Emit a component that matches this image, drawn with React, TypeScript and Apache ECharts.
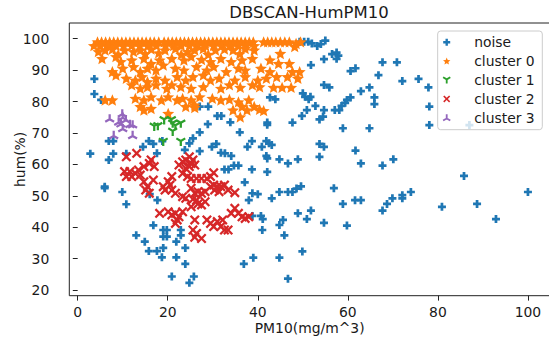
import React, { useEffect, useRef } from "react";
import * as echarts from "echarts";

const xTicks = [0, 20, 40, 60, 80, 100];
const yTicks = [20, 30, 40, 50, 60, 70, 80, 90, 100];
const seriesNames = ["noise", "cluster 0", "cluster 1", "cluster 2", "cluster 3"];
const seriesColors = ["#1f77b4", "#ff7f0e", "#2ca02c", "#d62728", "#9467bd"];

const noisePoints: number[][] = [
  [3.7, 87.2], [3.7, 82.4], [5.2, 80.5], [2.8, 63.4], [6.9, 67.4], [7.9, 67.4], [6.9, 61.4], [7.9, 63.4],
  [6.0, 52.9], [6.0, 52.4], [9.9, 51.2], [10.8, 47.3], [10.8, 63.4], [13.0, 37.4], [14.9, 35.4], [15.8, 32.4],
  [17.6, 32.4], [18.7, 30.4], [19.0, 33.4], [19.0, 39.1], [19.8, 39.1], [19.0, 37.0], [19.8, 37.0], [16.8, 40.6],
  [17.7, 48.6], [16.0, 50.5], [21.9, 35.4], [22.9, 39.1], [22.9, 37.4], [21.9, 30.4], [20.9, 24.3], [23.9, 28.3],
  [23.9, 33.4], [24.8, 22.3], [25.8, 24.3], [14.5, 65.6], [15.8, 67.4], [16.8, 66.5], [17.6, 63.5], [18.8, 67.4],
  [23.8, 64.6], [24.8, 66.7], [25.6, 68.3], [27.1, 70.2], [27.1, 64.2], [28.9, 72.8], [27.1, 78.4], [29.0, 78.4],
  [29.8, 65.6], [30.8, 66.5], [31.0, 75.4], [31.9, 75.4], [31.8, 63.7], [32.7, 63.5], [33.9, 73.4], [34.1, 62.7],
  [32.6, 58.4], [33.5, 58.4], [34.7, 59.6], [35.7, 59.6], [36.0, 70.2], [37.1, 54.3], [38.0, 48.6], [38.8, 50.8],
  [40.0, 50.5], [37.7, 65.6], [38.7, 67.4], [38.7, 58.4], [38.8, 43.6], [40.7, 43.6], [41.1, 42.6], [41.0, 39.1],
  [40.9, 65.6], [41.9, 67.4], [41.9, 62.7], [42.1, 61.9], [42.1, 57.6], [42.1, 73.3], [42.1, 72.6], [42.5, 66.7],
  [43.1, 66.2], [42.7, 81.3], [43.9, 80.7], [43.1, 49.2], [39.0, 30.3], [36.9, 28.3], [44.8, 30.3], [46.7, 23.6],
  [44.8, 61.6], [44.8, 40.7], [45.6, 42.3], [45.9, 37.4], [44.8, 51.2], [46.7, 51.2], [47.7, 51.2], [48.6, 52.3],
  [49.6, 53.0], [46.7, 60.3], [47.7, 73.3], [48.9, 61.6], [48.9, 44.4], [49.9, 32.3], [50.9, 42.6], [51.8, 45.3],
  [49.8, 75.4], [50.9, 77.3], [50.0, 82.6], [50.5, 81.5], [51.3, 80.7], [51.7, 81.5], [51.8, 91.6], [52.8, 78.6],
  [53.7, 74.3], [54.5, 75.2], [53.7, 66.5], [54.7, 65.6], [53.7, 62.4], [54.7, 77.3], [54.7, 85.3], [55.9, 84.5],
  [54.7, 93.5], [54.7, 41.4], [56.9, 52.4], [57.1, 77.3], [58.1, 77.3], [56.5, 95.1], [57.5, 95.6], [57.9, 94.6],
  [57.5, 93.6], [58.9, 71.5], [58.9, 47.4], [59.8, 40.5], [58.6, 78.6], [59.4, 79.6], [59.8, 80.5], [60.6, 81.3],
  [60.6, 89.7], [61.7, 90.6], [61.7, 64.4], [62.9, 60.3], [61.6, 48.6], [62.9, 48.6], [62.9, 83.3], [64.8, 84.5],
  [64.8, 71.5], [65.9, 81.3], [65.9, 79.2], [66.8, 88.4], [67.7, 92.5], [67.7, 59.6], [67.7, 45.3], [68.7, 47.4],
  [70.1, 61.6], [69.9, 49.2], [72.1, 50.2], [72.1, 49.2], [74.0, 51.2], [70.9, 92.5], [72.1, 86.5], [75.7, 87.2],
  [77.9, 84.5], [78.1, 78.4], [78.1, 72.5], [87.0, 72.5], [80.9, 46.5], [85.8, 56.3], [88.7, 47.4], [92.9, 42.6],
  [100.0, 51.2], [49.3, 99.0], [50.3, 99.0], [51.2, 99.0], [52.0, 98.5], [53.2, 97.7], [54.0, 98.3], [55.0, 99.4],
];

const cluster0Points: number[][] = [
  [4.4, 99], [5.3, 99], [6.2, 99], [7.1, 99], [8.0, 99], [8.9, 99], [9.8, 99], [10.7, 99], [11.6, 99], [12.5, 99],
  [13.4, 99], [14.3, 99], [15.2, 99], [16.1, 99], [17.0, 99], [18.0, 99], [19.2, 99], [20.1, 99], [21.0, 99],
  [21.9, 99], [22.8, 99], [23.7, 99], [24.6, 99], [25.5, 99], [26.4, 99], [27.3, 99], [28.2, 99], [29.1, 99],
  [30.0, 99], [30.9, 99], [31.8, 99], [32.7, 99], [33.6, 99], [34.5, 99], [35.4, 99], [36.3, 99], [37.2, 99],
  [38.1, 99], [39.0, 99], [41.3, 99], [42.2, 99], [43.1, 99], [44.0, 99], [45.0, 99], [46.0, 99], [47.0, 99],
  [48.5, 98.5], [49.5, 99],
  [3.6, 97.8], [5.0, 97.8], [6.8, 97.8], [8.5, 97.8], [10.2, 97.8], [12.0, 97.8], [13.8, 97.8], [15.6, 97.8],
  [17.5, 97.8], [19.5, 97.8], [21.3, 97.8], [23.0, 97.8], [24.8, 97.8], [26.6, 97.8], [28.4, 97.8], [30.2, 97.8],
  [32.0, 97.8], [33.8, 97.8], [35.6, 97.8], [37.4, 97.8], [39.2, 97.8], [48.2, 97.5],
  [4.6, 95.9], [6.1, 96.4], [7.7, 96.7], [10.4, 96.4], [12.4, 95.9], [13.9, 96.4], [16.3, 96.7], [19.4, 96.4],
  [21.7, 96.9], [24.4, 95.9], [26.0, 96.4], [27.9, 96.9], [30.6, 96.4], [32.6, 96.7], [34.5, 96.4], [37.2, 96.9],
  [39.2, 96.4], [45.0, 95.3], [9.0, 95.0], [15.0, 95.2], [18.0, 95.5], [23.0, 95.0], [29.0, 95.0], [36.0, 95.2],
  [5.4, 93.7], [8.5, 94.3], [9.6, 92.7], [12.0, 93.2], [14.7, 93.7], [16.3, 92.1], [18.2, 93.2], [20.9, 93.7],
  [23.6, 93.2], [25.2, 94.3], [27.5, 93.4], [29.5, 92.7], [31.8, 93.7], [34.1, 92.7], [36.5, 93.2], [38.8, 93.7],
  [42.7, 93.2], [44.6, 92.1], [47.0, 92.1],
  [7.7, 89.5], [10.0, 90.6], [12.4, 91.1], [13.9, 89.5], [15.5, 90.6], [17.4, 90.0], [19.0, 91.6], [21.7, 90.6],
  [23.6, 90.0], [26.4, 91.1], [28.7, 90.0], [30.2, 91.1], [33.0, 89.5], [35.7, 90.6], [37.2, 90.0], [40.7, 90.6],
  [42.7, 89.5], [47.7, 89.5], [49.3, 89.5],
  [8.5, 88.4], [10.8, 87.4], [12.8, 86.8], [14.3, 87.9], [15.5, 86.3], [17.4, 87.4], [19.4, 86.8], [22.1, 87.9],
  [24.0, 86.8], [25.6, 87.9], [27.9, 88.4], [29.5, 86.8], [31.4, 87.4], [34.9, 86.8], [37.2, 87.9], [40.0, 86.8],
  [41.9, 87.4], [44.2, 87.9], [46.6, 87.9], [48.9, 87.4],
  [12.0, 85.3], [13.9, 84.2], [15.5, 84.7], [17.4, 85.3], [19.8, 84.2], [20.9, 85.3], [22.9, 84.7], [25.2, 84.2],
  [27.9, 84.7], [31.8, 84.2], [33.7, 85.3], [36.1, 84.5], [38.8, 85.3], [40.4, 84.7], [43.5, 84.5], [45.4, 84.5],
  [47.4, 84.5],
  [6.1, 80.5], [7.7, 80.5], [12.8, 81.0], [14.7, 80.5], [16.3, 81.5], [18.6, 80.5], [20.1, 81.5], [22.1, 80.5],
  [23.3, 81.0], [25.2, 80.5], [27.1, 81.5], [29.9, 81.0], [31.8, 80.5], [33.7, 80.7], [35.7, 79.9], [38.0, 80.5],
  [13.9, 78.4], [14.7, 77.3], [16.3, 77.8], [24.0, 78.4], [26.0, 78.9], [26.0, 78.1], [34.5, 77.3], [36.5, 78.4],
  [37.6, 77.3], [39.2, 78.4], [40.4, 77.5], [41.3, 77.1], [36.1, 75.1], [20.1, 76.2],
];

const cluster1Points: number[][] = [
  [17.0, 72.0], [17.8, 72.2], [19.2, 74.1], [20.8, 74.1], [21.1, 73.0], [21.7, 72.2], [21.1, 70.4], [22.9, 73.0],
  [19.0, 67.2], [22.9, 67.2],
];

const cluster2Points: number[][] = [
  [10.8, 62.4], [13.1, 63.5], [10.4, 57.7], [11.6, 57.7], [12.8, 57.1], [10.8, 56.1], [12.0, 56.1], [13.5, 58.2],
  [13.9, 56.6], [14.7, 59.3], [15.9, 60.3], [16.3, 61.4], [17.0, 59.3], [14.7, 54.5], [15.5, 52.9], [15.1, 51.8],
  [15.9, 50.8], [16.8, 55.0], [19.0, 52.9], [19.4, 51.8], [20.1, 54.5], [20.9, 56.1], [20.5, 53.4], [20.9, 51.8],
  [21.7, 50.8], [18.2, 44.4], [20.1, 44.9], [20.9, 43.9], [21.7, 44.4], [22.1, 42.3], [22.5, 43.3], [23.3, 44.9],
  [21.7, 41.2], [22.5, 59.8], [23.3, 60.8], [24.0, 61.4], [24.8, 62.4], [25.6, 61.4], [25.2, 60.3], [26.0, 59.8],
  [24.0, 58.7], [24.8, 59.3], [23.3, 57.1], [24.4, 56.1], [25.2, 55.5], [26.4, 55.5], [27.5, 55.5], [28.7, 55.5],
  [29.5, 56.1], [30.2, 57.3], [25.2, 52.4], [26.0, 50.8], [26.7, 51.3], [27.5, 50.8], [28.3, 51.3], [26.4, 48.6],
  [26.7, 47.4], [27.5, 47.1], [28.3, 48.1], [25.6, 48.9], [25.2, 46.5], [29.5, 52.9], [30.2, 53.4], [31.0, 52.9],
  [31.8, 52.9], [32.6, 53.4], [33.4, 51.8], [34.9, 51.0], [30.4, 51.8], [31.4, 51.3], [26.0, 42.3], [25.6, 39.1],
  [26.4, 38.0], [27.5, 36.4], [26.0, 36.8], [28.7, 42.3], [29.5, 41.2], [30.2, 40.2], [31.0, 41.8], [31.8, 40.2],
  [32.6, 39.1], [33.4, 39.1], [32.2, 42.3], [34.1, 44.4], [34.9, 46.0], [35.7, 44.4], [36.5, 43.3], [37.2, 42.8],
  [38.0, 43.3], [23.3, 49.7], [24.0, 49.2],
];

const cluster3Points: number[][] = [
  [7.1, 74.6], [9.9, 76.2], [10.0, 75.1], [10.7, 74.3], [9.1, 73.6], [9.6, 73.0], [11.6, 72.8], [12.2, 72.7],
  [10.0, 71.5], [8.0, 69.3], [12.2, 69.3],
];

const PLUS = "path://M3.3,0H6.7V3.3H10V6.7H6.7V10H3.3V6.7H0V3.3H3.3Z";
const STAR =
  "path://M5,0L6.323,3.18L9.755,3.455L7.14,5.695L7.939,9.045L5,7.25L2.061,9.045L2.86,5.695L0.245,3.455L3.677,3.18Z";
const XMARK = "path://M0,1.6L1.6,0L5,3.4L8.4,0L10,1.6L6.6,5L10,8.4L8.4,10L5,6.6L1.6,10L0,8.4L3.4,5Z";
const TRI_DOWN =
  "path://M3.9,5L6.1,5L6.1,10L3.9,10ZM4.45,5.953L0.12,3.453L1.22,1.547L5.55,4.047ZM4.45,4.047L8.78,1.547L9.88,3.453L5.55,5.953Z";
const TRI_UP =
  "path://M3.9,5L6.1,5L6.1,0L3.9,0ZM4.45,4.047L0.12,6.547L1.22,8.453L5.55,5.953ZM4.45,5.953L8.78,8.453L9.88,6.547L5.55,4.047Z";

const FONT = "DejaVu Sans";
const TEXT = "#1a1a1a";

export default function App() {
  const ref = useRef<HTMLDivElement>(null);
  useEffect(() => {
    if (!ref.current) return;
    const chart = echarts.init(ref.current, null, { renderer: "svg" });
    const data = [noisePoints, cluster0Points, cluster1Points, cluster2Points, cluster3Points];
    const symbols = [PLUS, STAR, TRI_DOWN, XMARK, TRI_UP];
    const sizes = [8, 12, 10, 10, 10];
    chart.setOption({
      animation: false,
      backgroundColor: "#ffffff",
      graphic: [
        {
          type: "text",
          x: 309,
          y: 12.5,
          style: {
            text: "DBSCAN-HumPM10",
            fill: TEXT,
            font: `16.5px "${FONT}"`,
            align: "center",
            verticalAlign: "middle",
            textAlign: "center",
            textVerticalAlign: "middle",
          },
          z: 10,
        },
      ],
      grid: {
        left: 69.3,
        right: -1,
        top: 23,
        bottom: 43.3,
        show: true,
        containLabel: false,
        outerBoundsMode: "none",
        borderColor: "#222",
        borderWidth: 1,
        backgroundColor: "transparent",
      },
      xAxis: {
        type: "value",
        min: -1.865,
        max: 104.9,
        axisLine: { show: false },
        splitLine: { show: false },
        axisTick: { show: true, length: 4.9, lineStyle: { color: "#222", width: 1 }, customValues: xTicks },
        axisLabel: { customValues: xTicks, margin: 9, fontSize: 13.9, fontFamily: FONT, color: TEXT },
        name: "PM10(mg/m^3)",
        nameLocation: "middle",
        nameGap: 25.5,
        nameMoveOverlap: false,
        nameTextStyle: { fontSize: 13.9, fontFamily: FONT, color: TEXT },
      },
      yAxis: {
        type: "value",
        min: 18.19,
        max: 105,
        axisLine: { show: false },
        splitLine: { show: false },
        axisTick: { show: true, length: 4.9, lineStyle: { color: "#222", width: 1 }, customValues: yTicks },
        axisLabel: { customValues: yTicks, margin: 20, fontSize: 13.9, fontFamily: FONT, color: TEXT },
        name: "hum(%)",
        nameLocation: "middle",
        nameGap: 42,
        nameMoveOverlap: false,
        nameTextStyle: { fontSize: 13.9, fontFamily: FONT, color: TEXT },
      },
      legend: {
        data: seriesNames,
        orient: "vertical",
        right: 6.7,
        top: 31,
        itemWidth: 27,
        itemHeight: 7,
        itemGap: 4.9,
        padding: [4.2, 7.6, 4.9, 5],
        backgroundColor: "rgba(255,255,255,0.8)",
        borderColor: "#cccccc",
        borderWidth: 1,
        borderRadius: 3,
        textStyle: { fontSize: 13.9, fontFamily: FONT, color: TEXT, padding: [0, 0, 0, 9], lineHeight: 13.5 },
      },
      series: seriesNames.map((name, i) => ({
        type: "scatter",
        name,
        data: data[i],
        symbol: symbols[i],
        symbolSize: sizes[i],
        symbolKeepAspect: true,
        itemStyle: { color: seriesColors[i], opacity: 1 },
        emphasis: { disabled: true },
      })),
    });
    return () => chart.dispose();
  }, []);
  return <div ref={ref} style={{ position: "fixed", left: 0, top: 0, width: 549, height: 339 }} />;
}
